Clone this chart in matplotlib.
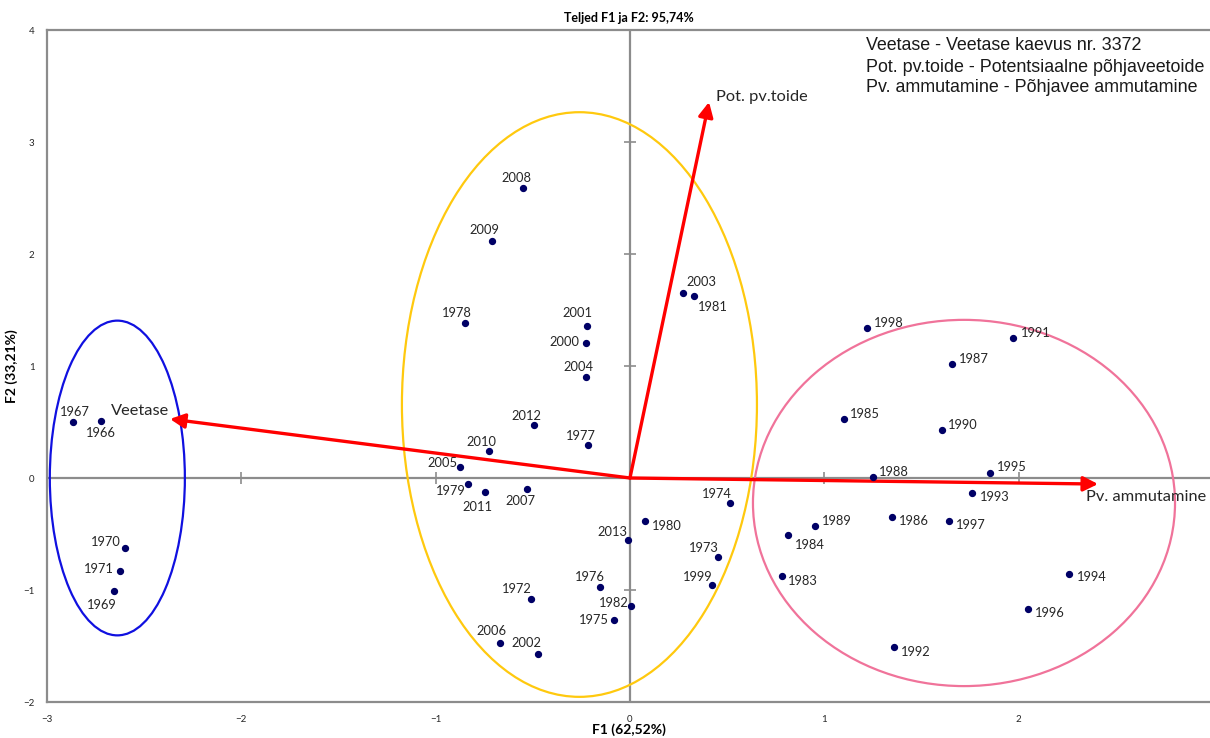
import matplotlib
matplotlib.use("Agg")
import matplotlib.pyplot as plt
from matplotlib.patches import Ellipse

# vaatlusaastad ja nende koordinaadid (F1, F2)
years = ['1966', '1967', '1969', '1970', '1971', '1972', '1973', '1974', '1975', '1976',
         '1977', '1978', '1979', '1980', '1981', '1982', '1983', '1984', '1985', '1986',
         '1987', '1988', '1989', '1990', '1991', '1992', '1993', '1994', '1995', '1996',
         '1997', '1998', '1999', '2000', '2001', '2002', '2003', '2004', '2005', '2006',
         '2007', '2008', '2009', '2010', '2011', '2012', '2013']
f1 = [-2.723, -2.867, -2.656, -2.599, -2.625, -0.510, 0.453, 0.515, -0.082, -0.154,
      -0.216, -0.849, -0.834, 0.077, 0.329, 0.005, 0.781, 0.815, 1.100, 1.348,
      1.659, 1.249, 0.952, 1.604, 1.973, 1.360, 1.762, 2.261, 1.855, 2.050,
      1.643, 1.221, 0.422, -0.226, -0.221, -0.473, 0.273, -0.226, -0.875, -0.669,
      -0.530, -0.551, -0.710, -0.726, -0.746, -0.494, -0.010]
f2 = [0.509, 0.500, -1.009, -0.625, -0.830, -1.080, -0.705, -0.223, -1.268, -0.973,
      0.295, 1.384, -0.054, -0.384, 1.625, -1.143, -0.878, -0.509, 0.524, -0.348,
      1.018, 0.012, -0.429, 0.426, 1.253, -1.512, -0.131, -0.854, 0.048, -1.173,
      -0.381, 1.339, -0.955, 1.205, 1.357, -1.571, 1.652, 0.902, 0.098, -1.473,
      -0.098, 2.589, 2.116, 0.241, -0.125, 0.473, -0.554]

# muutujate vektorid
var_names = ['Veetase', 'Pot. pv.toide', 'Pv. ammutamine']
var_f1 = [-2.367, 0.407, 2.409]
var_f2 = [0.527, 3.357, -0.054]

legend_lines = ['Veetase - Veetase kaevus nr. 3372',
                'Pot. pv.toide - Potentsiaalne põhjaveetoide',
                'Pv. ammutamine - Põhjavee ammutamine']

# rühmade ellipsid: keskpunkt, laius, kõrgus
groups = {'blue': ((-2.638, 0.0), 0.695, 2.81),
          'yellow': ((-0.26, 0.656), 1.827, 5.22),
          'pink': ((1.719, -0.223), 2.172, 3.27)}
group_colors = {'blue': '#1010e0', 'yellow': '#ffc90e', 'pink': '#f0739a'}

# siltide nihked pikslites (paremale, üles)
label_off = {
    '1967': (2, 10), '1966': (0, -12), '1970': (-19, 6), '1971': (-21, 2), '1969': (-12, -14),
    '2008': (-6, 10), '2009': (-8, 11), '1978': (-8, 10), '2001': (-10, 13), '2000': (-22, 1),
    '2004': (-8, 10), '2012': (-8, 9), '1977': (-7, 9), '2010': (-7, 9), '2005': (-18, 4),
    '1979': (-17, -7), '2011': (-8, -15), '2007': (-7, -12), '2013': (-16, 8), '1980': (22, -5),
    '1976': (-10, 10), '1972': (-14, 10), '1982': (-17, 3), '1975': (-20, 0), '2006': (-9, 12),
    '2002': (-12, 11), '2003': (18, 11), '1981': (19, -11), '1974': (-13, 9), '1973': (-14, 9),
    '1999': (-14, 8), '1998': (22, 5), '1991': (22, 5), '1987': (22, 5), '1985': (21, 5),
    '1990': (21, 5), '1988': (21, 5), '1995': (21, 6), '1993': (22, -4), '1986': (22, -4),
    '1997': (22, -4), '1989': (22, 5), '1984': (22, -10), '1983': (21, -5), '1994': (22, -3),
    '1996': (21, -4), '1992': (22, -5)}

lbl_font = ['Lato', 'DejaVu Sans']
grey = '#8c8c8c'

fig = plt.figure(figsize=(12.1, 7.38), dpi=100)
ax = fig.add_axes([47 / 1210, 36 / 738, 1 - 47 / 1210, 672 / 738])
ax.set_xlim(-3, 2.985)
ax.set_ylim(-2, 4)

for s in ['left', 'top', 'bottom']:
    ax.spines[s].set_color(grey)
    ax.spines[s].set_linewidth(1.6)
ax.spines['right'].set_visible(False)

ax.set_xticks([-3, -2, -1, 0, 1, 2])
ax.set_yticks([-2, -1, 0, 1, 2, 3, 4])
ax.tick_params(length=0, labelsize=7, labelcolor='#262626', pad=9)
for t in ax.get_xticklabels() + ax.get_yticklabels():
    t.set_fontfamily(lbl_font)

# nullteljed koos kriipsudega
ax.axhline(0, color=grey, lw=1.6, zorder=1)
ax.axvline(0, color=grey, lw=1.6, zorder=1)
ax.plot([-2, -1, 1, 2], [0, 0, 0, 0], ls='none', marker='|', ms=8, mew=1.2, color=grey, zorder=1)
ax.plot([0, 0, 0, 0, 0], [-1, 1, 2, 3, -2], ls='none', marker='_', ms=8, mew=1.2, color=grey, zorder=1)

for g, (c, w, h) in groups.items():
    ax.add_patch(Ellipse(c, w, h, fill=False, ec=group_colors[g], lw=1.6, zorder=2))

ax.scatter(f1, f2, s=18, color='#000066', zorder=4)
for yr, x, y in zip(years, f1, f2):
    dx, dy = label_off[yr]
    ax.annotate(yr, (x, y), xytext=(dx, dy), textcoords='offset pixels',
                ha='center', va='center', fontsize=9.3, color='#262626',
                family=lbl_font, zorder=5)

for name, x, y in zip(var_names, var_f1, var_f2):
    ax.annotate('', xy=(x, y), xytext=(0, 0),
                arrowprops=dict(arrowstyle='-|>', color='red', lw=2.4,
                                mutation_scale=22, shrinkA=0, shrinkB=0), zorder=3)

ax.annotate(var_names[0], (var_f1[0], var_f2[0]), xytext=(-1, 8), textcoords='offset pixels',
            ha='right', va='center', fontsize=11.8, color='#262626', family=lbl_font)
ax.annotate(var_names[1], (var_f1[1], var_f2[1]), xytext=(7, 5), textcoords='offset pixels',
            ha='left', va='center', fontsize=11.8, color='#262626', family=lbl_font)
ax.annotate(var_names[2], (var_f1[2], var_f2[2]), xytext=(-12, -13), textcoords='offset pixels',
            ha='left', va='center', fontsize=11.8, color='#262626', family=lbl_font)

for i, line in enumerate(legend_lines):
    fig.text(866 / 1210, 1 - (46 + 21 * i) / 738, line, ha='left', va='center',
             fontsize=12.9, family='Liberation Sans', color='#1a1a1a')

ax.set_title('Teljed F1 ja F2: 95,74%', fontsize=9, fontweight='bold', family=lbl_font, pad=6)
ax.set_xlabel('F1 (62,52%)', fontsize=10, fontweight='bold', family=lbl_font, labelpad=0)
ax.set_ylabel('F2 (33,21%)', fontsize=10, fontweight='bold', family=lbl_font, labelpad=4)

fig.savefig('out.png', dpi=100)
